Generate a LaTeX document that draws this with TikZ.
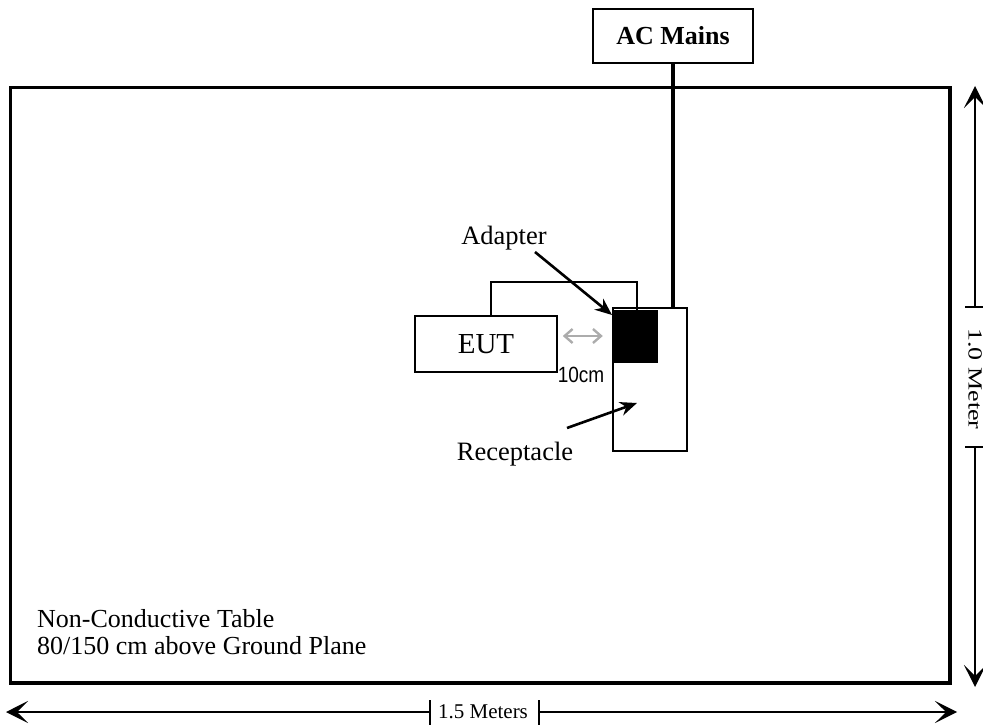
\documentclass[tikz,border=0pt]{standalone}
\usepackage{fontspec}
\setmainfont{Liberation Serif}
\newfontfamily\arialfont{Liberation Sans}
\usetikzlibrary{arrows.meta}
\tikzset{
  thinbox/.style={draw=black, line width=1.5pt, fill=white, inner sep=0pt},
  lbl/.style={inner sep=0pt, font=\fontsize{26.5}{27}\selectfont},
  tbltext/.style={inner sep=0pt, anchor=base west, font=\fontsize{26}{27}\selectfont},
  dimarrow/.style={line width=1.4pt, -{Stealth[length=22pt,width=22pt,inset=11pt]}},
  callout/.style={line width=2.6pt, -{Stealth[length=17pt,width=14pt]}},
}
\begin{document}
\begin{tikzpicture}[x=1pt,y=-1pt]
\useasboundingbox (0,0) rectangle (983,727);
% table
\draw[line width=3.5pt] (10.5,87.5) rectangle (950,683);
% AC mains
\node[thinbox, minimum width=160pt, minimum height=54pt, font=\bfseries\fontsize{26}{28}\selectfont] (acm) at (673,36) {AC Mains};
% receptacle
\node[thinbox, minimum width=74pt, minimum height=143pt] (rec) at (650,379.5) {};
% adapter
\node[fill=black, inner sep=0pt, minimum width=44pt, minimum height=53pt] (adp) at (636,336.5) {};
% EUT
\node[thinbox, minimum width=142pt, minimum height=56pt, font=\fontsize{29}{31}\selectfont] (eut) at (486,344) {EUT};
% cables
\draw[line width=4pt] (acm.south) -- (acm.south |- rec.north);
\draw[line width=1.5pt] (eut.north) ++(5,0) coordinate (c1) -- (c1 |- 0,282) -| (637,310) coordinate (c2);
% 10 cm spacing arrow
\coordinate (g1) at (eut.east |- 0,336);
\draw[line width=2.4pt, gray!65, {Straight Barb[length=8pt,width=14pt]}-{Straight Barb[length=8pt,width=14pt]}] ([xshift=5pt]g1) -- ([xshift=-11pt]adp.west |- g1);
\node[inner sep=0pt, font=\arialfont\fontsize{20}{22}\selectfont] (tencm) at (581,375) {\scalebox{0.95}[1.1]{10cm}};
% labels
\node[lbl] (adl) at (504,238) {Adapter};
\coordinate (adl0) at (535,252);
\draw[callout] (adl0) -- (612,315);
\node[lbl] (rcl) at (515,454) {Receptacle};
\coordinate (rcl0) at (567,428);
\draw[callout] (rcl0) -- (637,403);
\node[tbltext] (tbl) at (37,627) {Non-Conductive Table};
\node[tbltext] (tbl2) at (37,654) {80/150 cm above Ground Plane};
% horizontal dimension
\node[inner sep=0pt, font=\fontsize{21}{22}\selectfont] (hdim) at (483,712) {1.5 Meters};
\draw[line width=1.4pt] (430,700) -- (430,725);
\draw[line width=1.4pt] (539,700) -- (539,725);
\draw[dimarrow] (430,712) -- (6,712);
\draw[dimarrow] (539,712) -- (957,712);
% vertical dimension
\node[inner sep=0pt, rotate=-90, font=\fontsize{20}{22}\selectfont] (vdim) at (975,379) {\scalebox{1.3}[1]{1.0 Meter}};
\draw[line width=1.4pt] (965,307) -- (986,307);
\draw[line width=1.4pt] (965,447) -- (986,447);
\draw[dimarrow] (975,307) -- (975,86);
\draw[dimarrow] (975,447) -- (975,687);
\end{tikzpicture}
\end{document}
